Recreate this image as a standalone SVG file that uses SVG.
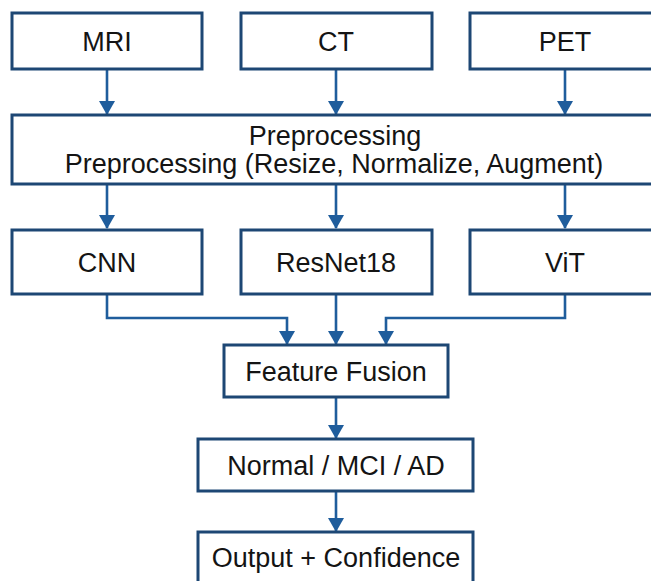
<svg xmlns="http://www.w3.org/2000/svg" width="651" height="581" viewBox="0 0 651 581">
  <style>
    .box { fill: #ffffff; stroke: #1d4774; stroke-width: 3; }
    .lbl { font-family: "Liberation Sans", Arial, sans-serif; font-size: 27px; fill: #141414; text-anchor: middle; }
    .conn { fill: none; stroke: #1f5d9c; stroke-width: 2.6; marker-end: url(#arr); }
  </style>
  <defs>
    <marker id="arr" markerUnits="userSpaceOnUse" viewBox="0 0 14 16" markerWidth="14" markerHeight="16" refX="13" refY="8" orient="auto">
      <path d="M0,0 L14,8 L0,16 z" fill="#1f5d9c"/>
    </marker>
  </defs>
  <rect width="651" height="581" fill="#ffffff"/>

  <g id="connectors">
    <path class="conn" d="M107,69 V114"/>
    <path class="conn" d="M336,69 V114"/>
    <path class="conn" d="M565,69 V114"/>
    <path class="conn" d="M107,184 V228"/>
    <path class="conn" d="M336,184 V228"/>
    <path class="conn" d="M565,184 V228"/>
    <path class="conn" d="M107,294 V318 H287 V344"/>
    <path class="conn" d="M336,294 V344"/>
    <path class="conn" d="M565,294 V318 H386 V344"/>
    <path class="conn" d="M336,397 V438"/>
    <path class="conn" d="M336,491 V531"/>
  </g>

  <g id="mri">
    <rect class="box" x="12" y="13" width="190" height="56"/>
    <text class="lbl" x="107" y="50.5">MRI</text>
  </g>
  <g id="ct">
    <rect class="box" x="241" y="13" width="191" height="56"/>
    <text class="lbl" x="336" y="50.5">CT</text>
  </g>
  <g id="pet">
    <rect class="box" x="470" y="13" width="195" height="56"/>
    <text class="lbl" x="565" y="50.5">PET</text>
  </g>

  <g id="preprocessing">
    <rect class="box" x="12" y="115" width="653" height="69"/>
    <text class="lbl" x="335" y="145">Preprocessing</text>
    <text class="lbl" x="334" y="173">Preprocessing (Resize, Normalize, Augment)</text>
  </g>

  <g id="cnn">
    <rect class="box" x="12" y="230" width="190" height="64"/>
    <text class="lbl" x="107" y="272">CNN</text>
  </g>
  <g id="resnet18">
    <rect class="box" x="241" y="230" width="191" height="64"/>
    <text class="lbl" x="336" y="272">ResNet18</text>
  </g>
  <g id="vit">
    <rect class="box" x="470" y="230" width="195" height="64"/>
    <text class="lbl" x="565" y="272">ViT</text>
  </g>

  <g id="feature-fusion">
    <rect class="box" x="224" y="345" width="224" height="52"/>
    <text class="lbl" x="336" y="380.5">Feature Fusion</text>
  </g>

  <g id="classes">
    <rect class="box" x="198" y="439" width="275" height="52"/>
    <text class="lbl" x="336" y="475">Normal / MCI / AD</text>
  </g>

  <g id="output">
    <rect class="box" x="198" y="532" width="275" height="60"/>
    <text class="lbl" x="336" y="567">Output + Confidence</text>
  </g>
</svg>
